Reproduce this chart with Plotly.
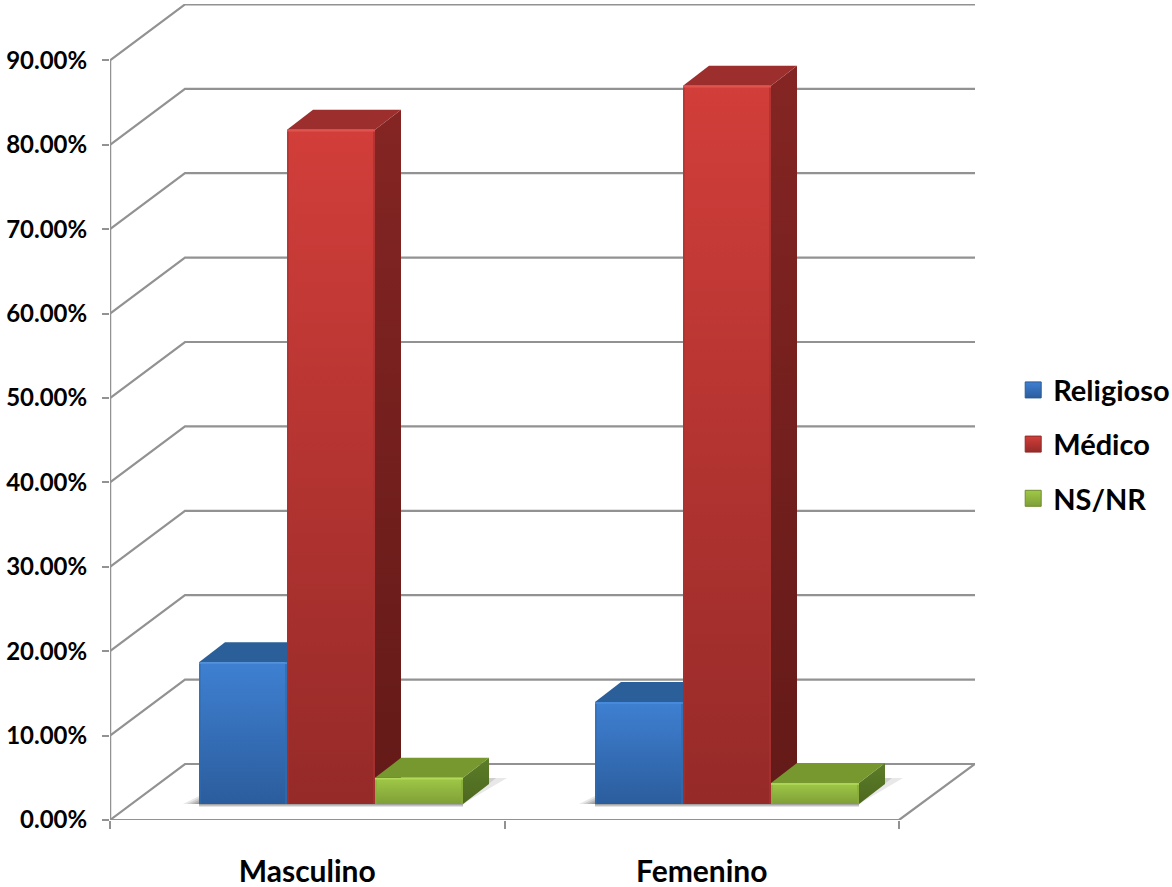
import plotly.graph_objects as go

categories = ["Masculino", "Femenino"]
religioso = [16.8, 12.1]
medico = [79.9, 85.1]
nsnr = [3.1, 2.5]
y_ticks = [0, 10, 20, 30, 40, 50, 60, 70, 80, 90]
y_labels = ["0.00%", "10.00%", "20.00%", "30.00%", "40.00%", "50.00%", "60.00%", "70.00%", "80.00%", "90.00%"]

W, H = 1172, 887
L, R, T, B = 110, 197, 4, 67
PX = 394.5          # pixels per category
PY = 8.44           # pixels per percentage point
GREY = "#929292"
FONT_Y = dict(family="Lato", size=24, color="#000000", weight=700)
FONT_X = dict(family="Lato", size=30, color="#000000", weight=700)
FONT_LEG = dict(family="Lato", size=29, color="#000000", weight=700)


def dx(px):
    return px / PX


def dy(px):
    return px / PY


XMAX = (W - L - R) / PX
YMAX = (H - T - B) / PY
WALL_X, WALL_Y = dx(75), dy(56)
BASE_Y = dy(16)
BAR_W = dx(88)
BAR_START = [dx(89), dx(485)]
DEPTH_X, DEPTH_Y = dx(26), dy(20)

series = [
    dict(name="Religioso", vals=religioso, top="#3f80d2", bot="#2b5d9d", cap="#2b5f99", side0="#28588f", side1="#234e80", edge="#2f6cb0", hi="#4b8ddc", line="#2a5a94"),
    dict(name="Médico", vals=medico, top="#d23e3a", bot="#952a28", cap="#9c2f2d", side0="#842523", side1="#631a18", edge="#a83230", hi="#e05450", line="#8e2a28"),
    dict(name="NS/NR", vals=nsnr, top="#a0c946", bot="#7f9f38", cap="#76982f", side0="#5c7d28", side1="#4d681f", edge="#88ab3c", hi="#b2d95a", line="#6e8c30"),
]

fig = go.Figure()


def poly(xs, ys, color=None, grad=None, opacity=1.0):
    kw = dict(x=xs, y=ys, mode="lines", fill="toself", line=dict(width=0),
              hoverinfo="skip", showlegend=False, opacity=opacity)
    if grad:
        kw["fillgradient"] = dict(type="vertical", colorscale=[[0, grad[1]], [1, grad[0]]])
        kw["fillcolor"] = grad[0]
    else:
        kw["fillcolor"] = color
    fig.add_trace(go.Scatter(**kw))


def stroke(xs, ys, color, width=1.0):
    fig.add_trace(go.Scatter(x=xs, y=ys, mode="lines", line=dict(color=color, width=width),
                             hoverinfo="skip", showlegend=False))


# walls and floor
gx, gy = [], []
for v in y_ticks:
    gx += [0, WALL_X, XMAX, None]
    gy += [v, v + WALL_Y, v + WALL_Y, None]
gx += [XMAX, 2, 0]
gy += [WALL_Y, 0, 0]
stroke(gx, gy, GREY, 2.2)
stroke([0, 0], [0, y_ticks[-1]], GREY, 2.5)

# soft floor shadows
for i in range(len(categories)):
    x0 = BAR_START[i]
    x3 = x0 + 3 * BAR_W
    for grow, op in ((1.0, 0.14), (0.75, 0.18), (0.5, 0.22), (0.25, 0.25)):
        poly([x0 - dx(16 * grow), x0, x3, x3 + dx(44 * grow), x3 + dx(26), x3, x3, x0, x0],
             [BASE_Y, BASE_Y + dy(8 * grow), BASE_Y, BASE_Y + dy(26), BASE_Y + dy(26), BASE_Y + dy(0), BASE_Y - dy(3 * grow), BASE_Y - dy(3 * grow), BASE_Y],
             color="rgb(90,90,90)", opacity=op)

# 3D columns
for i in range(len(categories)):
    for j, s in enumerate(series):
        x0 = BAR_START[i] + j * BAR_W
        x1 = x0 + BAR_W
        top = BASE_Y + s["vals"][i]
        poly([x1, x1 + DEPTH_X, x1 + DEPTH_X, x1, x1],
             [BASE_Y, BASE_Y + DEPTH_Y, top + DEPTH_Y, top, BASE_Y], grad=(s["side0"], s["side1"]))
        poly([x0, x0 + DEPTH_X, x1 + DEPTH_X, x1, x0],
             [top, top + DEPTH_Y, top + DEPTH_Y, top, top], color=s["cap"])

for i in range(len(categories)):
    for j, s in enumerate(series):
        x0 = BAR_START[i] + j * BAR_W
        x1 = x0 + BAR_W
        top = BASE_Y + s["vals"][i]
        poly([x0, x1, x1, x0, x0], [BASE_Y, BASE_Y, top, top, BASE_Y], grad=(s["top"], s["bot"]))
        stroke([x1 - dx(1), x1 - dx(1)], [BASE_Y, top], s["edge"], 1.5)
        stroke([x0 + dx(1), x0 + dx(1)], [BASE_Y, top], s["edge"], 1.0)
        stroke([x0, x1], [top - dy(1), top - dy(1)], s["hi"], 1.5)

# legend entries
for s in series:
    fig.add_trace(go.Scatter(
        x=[None], y=[None], mode="markers", name=s["name"], legendgroup=s["name"],
        marker=dict(symbol="square", size=19, color=s["top"],
                    gradient=dict(type="vertical", color=s["bot"]),
                    line=dict(color=s["line"], width=1)),
    ))

fig.update_layout(
    width=W, height=H,
    margin=dict(l=L, r=R, t=T, b=B, autoexpand=False),
    paper_bgcolor="#ffffff", plot_bgcolor="#ffffff",
    font=FONT_Y,
    legend=dict(xref="container", yref="container", x=0.8645, y=0.589, xanchor="left", yanchor="top",
                tracegroupgap=13.5, itemwidth=30, font=FONT_LEG, bgcolor="rgba(0,0,0,0)"),
    xaxis=dict(range=[0, XMAX], automargin=False, showgrid=False, zeroline=False, showline=False,
               tickmode="array", tickvals=[0.5, 1.5], ticktext=categories,
               ticks="outside", ticklen=25, tickcolor="rgba(0,0,0,0)", tickfont=FONT_X,
               minor=dict(tickmode="array", tickvals=[0, 1, 2], ticks="outside", ticklen=8, tickcolor=GREY, tickwidth=2)),
    yaxis=dict(range=[0, YMAX], automargin=False, showgrid=False, zeroline=False, showline=False,
               tickmode="array", tickvals=y_ticks, ticktext=y_labels,
               ticks="outside", ticklen=7, tickcolor=GREY, tickwidth=2, tickfont=FONT_Y,
               ticklabelstandoff=10),
)

fig.write_html("out.html", config=dict(displayModeBar=False),
               post_script="document.body.style.margin='0';")
